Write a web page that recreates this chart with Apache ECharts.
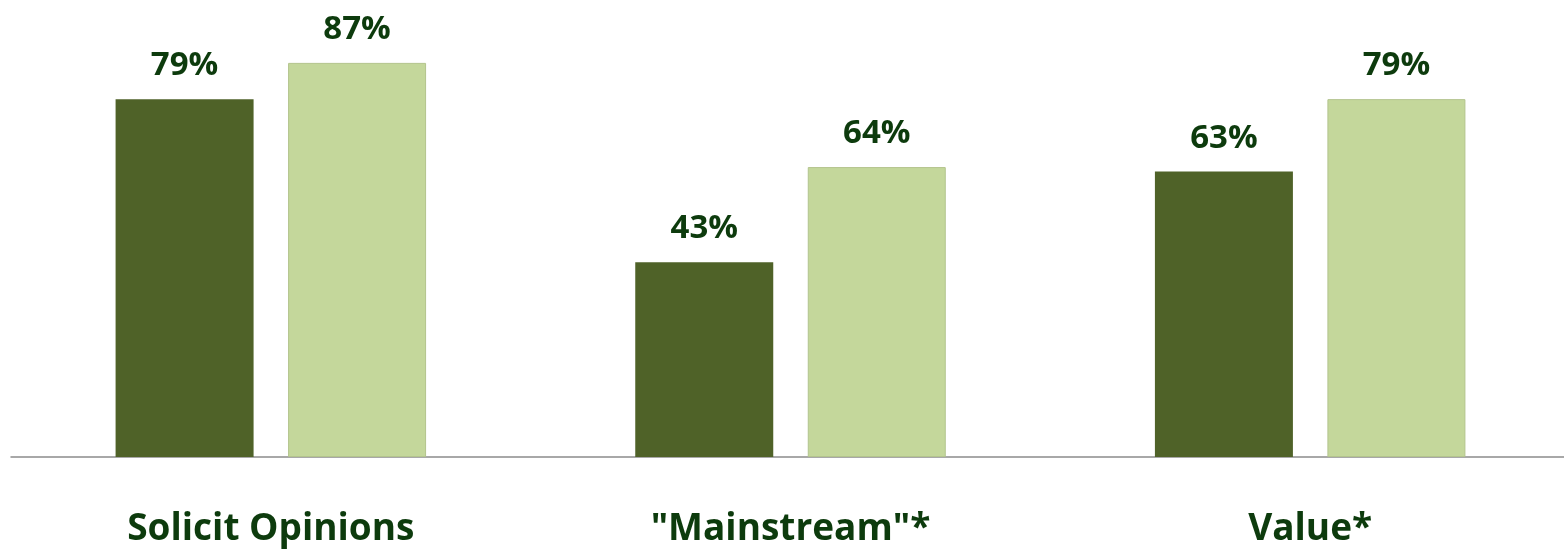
<!DOCTYPE html>
<html>
<head>
<meta charset="utf-8">
<script src="https://cdn.jsdelivr.net/npm/echarts@6/dist/echarts.min.js"></script>
<style>
  html, body { margin: 0; padding: 0; background: #fff; overflow: hidden; }
  #chart { width: 1570px; height: 554px; }
</style>
</head>
<body>
<div id="chart"></div>
<script>
var categories = ['Solicit Opinions', '"Mainstream"*', 'Value*'];
var darkValues = [79, 43, 63];
var lightValues = [87, 64, 79];

var textColor = '#0d3b0d';
var fontFamily = '"Open Sans", "Noto Sans", sans-serif';

var chart = echarts.init(document.getElementById('chart'));

var labelStyle = {
    show: true,
    position: 'top',
    distance: 17,
    color: textColor,
    fontFamily: fontFamily,
    fontWeight: 'bold',
    fontSize: 33,
    formatter: function (p) { return p.value + '%'; }
};

chart.setOption({
    animation: false,
    grid: { left: 11, top: 4, right: 0, bottom: 97, containLabel: false },
    xAxis: {
        type: 'category',
        data: categories,
        axisLine: { lineStyle: { color: '#8c8c8c', width: 1.5 } },
        axisTick: { show: false },
        axisLabel: {
            margin: 54,
            color: textColor,
            fontFamily: fontFamily,
            fontWeight: 'bold',
            fontSize: 37
        }
    },
    yAxis: {
        type: 'value',
        min: 0,
        max: 100,
        show: false,
        splitLine: { show: false }
    },
    series: [
        {
            type: 'bar',
            data: darkValues,
            barWidth: 138,
            barGap: '25%',
            itemStyle: { color: '#4f6228' },
            label: labelStyle
        },
        {
            type: 'bar',
            data: lightValues,
            barWidth: 138,
            barGap: '25%',
            itemStyle: { color: '#c4d79b', borderColor: '#b3c48d', borderWidth: 1 },
            label: labelStyle
        }
    ]
});
</script>
</body>
</html>
